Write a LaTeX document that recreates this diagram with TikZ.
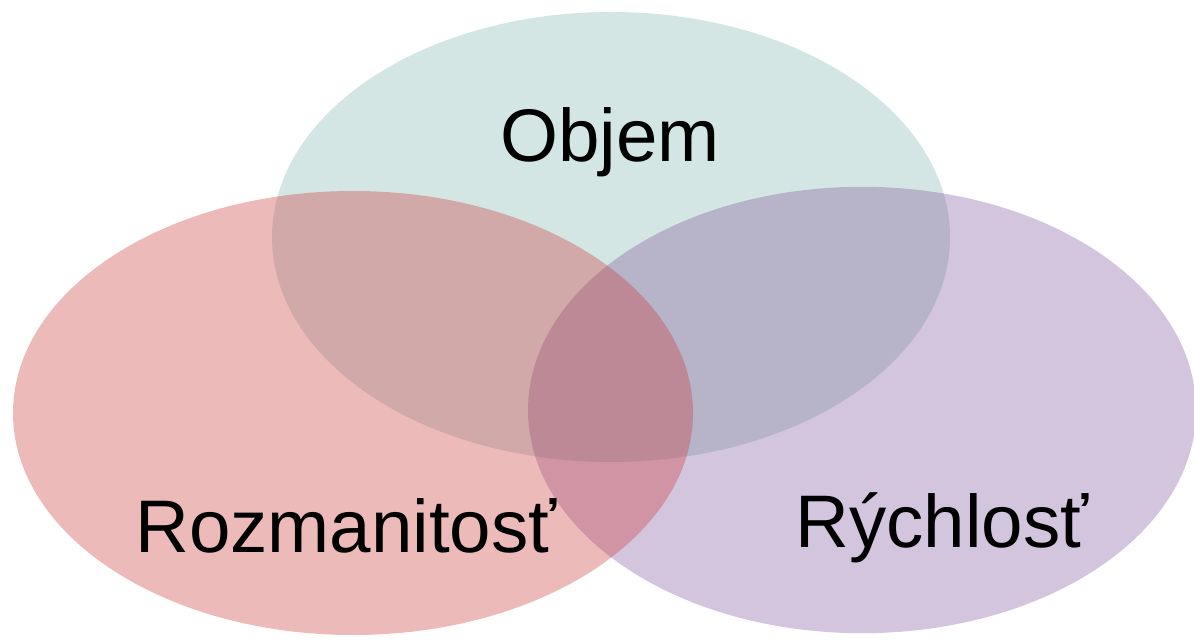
\documentclass[tikz,border=0pt]{standalone}
\usepackage{fontspec}
\setmainfont{Liberation Sans}
\usepackage{xcolor}
\usetikzlibrary{positioning}
\definecolor{volumeteal}{HTML}{84B8AF}
\definecolor{varietyred}{HTML}{CC3A3A}
\definecolor{velocityviolet}{HTML}{81599E}

\begin{document}
\begin{tikzpicture}
  % Canvas
  \useasboundingbox (0,0) rectangle (29.85,-16);
  \fill[white] (0,0) rectangle (29.85,-16);

  % Three overlapping sets
  \fill[volumeteal, fill opacity=0.35] (15.275,-5.925) ellipse [x radius=8.475cm, y radius=5.625cm];
  \fill[velocityviolet, fill opacity=0.35] (21.55,-10.25) ellipse [x radius=8.35cm, y radius=5.58cm];
  \fill[varietyred, fill opacity=0.35] (8.825,-10.325) ellipse [x radius=8.5cm, y radius=5.55cm];

  % Set labels
  \node[black, anchor=base, font=\fontsize{53}{60}\selectfont] (objem) at (15.25,-4.05) {Objem};
  \node[black, anchor=base, font=\fontsize{53}{60}\selectfont] (rozmanitost) at (8.65,-13.8) {Rozmanitosť};
  \node[black, anchor=base, font=\fontsize{53}{60}\selectfont] (rychlost) at (23.55,-13.675) {Rýchlosť};
\end{tikzpicture}
\end{document}
